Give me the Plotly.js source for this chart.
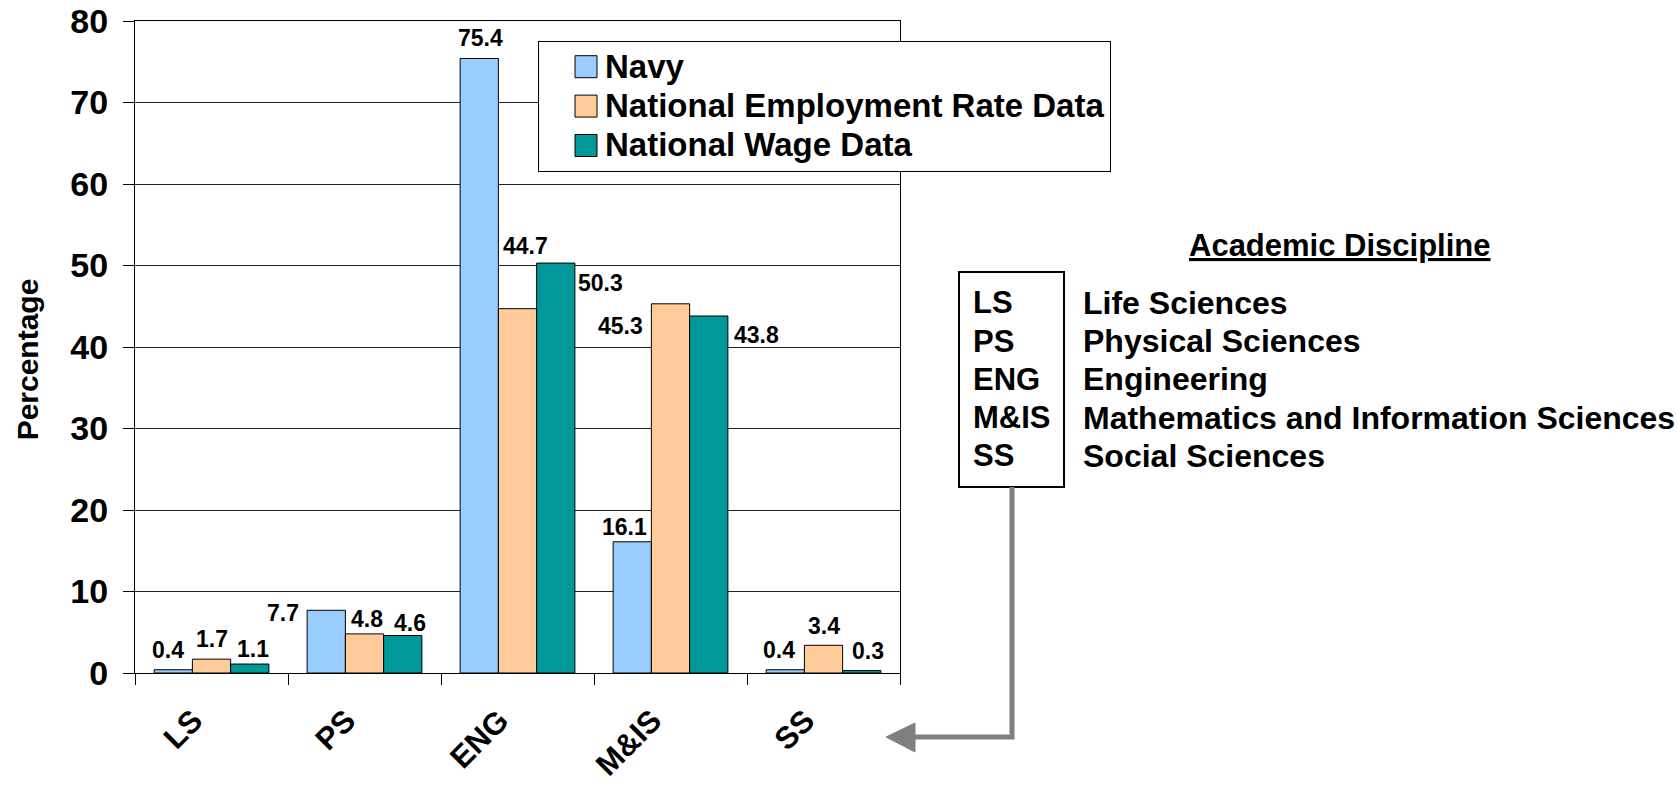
<!DOCTYPE html>
<html>
<head>
<meta charset="utf-8">
<script src="https://cdn.plot.ly/plotly-3.0.1.min.js"></script>
<style>html,body{margin:0;padding:0;background:#fff;}</style>
</head>
<body>
<div id="chart" style="width:1677px;height:785px;"></div>
<script>
// ---- Data ----
const categories = ['LS', 'PS', 'ENG', 'M&IS', 'SS'];
const navy = [0.4, 7.7, 75.4, 16.1, 0.4];
const employment = [1.7, 4.8, 44.7, 45.3, 3.4];
const wage = [1.1, 4.6, 50.3, 43.8, 0.3];
const seriesNames = ['Navy', 'National Employment Rate Data', 'National Wage Data'];
const abbreviations = ['LS', 'PS', 'ENG', 'M&IS', 'SS'];
const disciplines = ['Life Sciences', 'Physical Sciences', 'Engineering', 'Mathematics and Information Sciences', 'Social Sciences'];

// ---- Styles ----
const colors = ['#99CCFF', '#FFCC99', '#009999'];
const FONT = 'Arial, "Liberation Sans", sans-serif';
// pixel offsets of each value label relative to the top centre of its bar [series][category]
const labelShift = [
  [[-5, 20], [-43, -3], [1, 20], [-8, 15], [-6, 20]],
  [[0, 20], [2, 15], [8, 63], [-50, -22], [0, 19]],
  [[3, 15], [7, 13], [45, -20], [48, -19], [6, 20]]
];

const M = {l: 135, r: 777, t: 21, b: 112};
const W = 1677, H = 785;
const PW = W - M.l - M.r, PH = H - M.t - M.b;
const px = v => (v - M.l) / PW;
const py = v => (H - M.b - v) / PH;

const allSeries = [navy, employment, wage];
const traces = allSeries.map((vals, i) => ({
  type: 'bar',
  name: '<span style="font-size:33px">' + seriesNames[i] + '</span>',
  x: categories,
  y: vals,
  marker: {color: colors[i], line: {color: '#000', width: 1}},
  hovertemplate: seriesNames[i] + '<br>%{x}: %{y}<extra></extra>'
}));

const annotations = [];
allSeries.forEach((vals, s) => {
  vals.forEach((v, c) => {
    annotations.push({
      xref: 'x', yref: 'y', x: c + (s - 1) * 0.25, y: v,
      text: v.toFixed(1), showarrow: false,
      xanchor: 'center', yanchor: 'middle',
      xshift: labelShift[s][c][0], yshift: labelShift[s][c][1],
      font: {family: FONT, size: 23, color: '#000', weight: 'bold'}
    });
  });
});

annotations.push({
  xref: 'paper', yref: 'paper', x: px(1340), y: py(245),
  text: '<u>Academic Discipline</u>', showarrow: false,
  xanchor: 'center', yanchor: 'middle',
  font: {family: FONT, size: 31, color: '#000', weight: 'bold'}
});
abbreviations.forEach((a, i) => {
  const yy = py(303 + i * 38.2);
  annotations.push({
    xref: 'paper', yref: 'paper', x: px(971), y: yy, text: a, showarrow: false,
    xanchor: 'left', yanchor: 'middle',
    font: {family: FONT, size: 31, color: '#000', weight: 'bold'}
  });
  annotations.push({
    xref: 'paper', yref: 'paper', x: px(1081), y: yy, text: disciplines[i], showarrow: false,
    xanchor: 'left', yanchor: 'middle',
    font: {family: FONT, size: 32, color: '#000', weight: 'bold'}
  });
});

const shapes = [
  {type: 'rect', xref: 'paper', yref: 'paper', x0: px(959), x1: px(1064), y0: py(487), y1: py(272),
   line: {color: '#000', width: 2}, fillcolor: 'rgba(0,0,0,0)'},
  {type: 'path', xref: 'paper', yref: 'paper',
   path: `M${px(1012)},${py(487)} L${px(1012)},${py(737)} L${px(912)},${py(737)}`,
   line: {color: '#808080', width: 5}},
  {type: 'path', xref: 'paper', yref: 'paper',
   path: `M${px(886)},${py(737)} L${px(915)},${py(723)} L${px(915)},${py(752)} Z`,
   line: {color: '#808080', width: 1}, fillcolor: '#808080'}
];

const layout = {
  width: W, height: H,
  margin: M,
  paper_bgcolor: '#fff', plot_bgcolor: '#fff',
  barmode: 'group', bargap: 0.25, bargroupgap: 0,
  showlegend: true,
  legend: {
    x: px(538), y: py(41), xanchor: 'left', yanchor: 'top',
    bgcolor: '#fff', bordercolor: '#000', borderwidth: 1,
    font: {family: FONT, size: 28, color: '#000', weight: 'bold'},
    itemwidth: 56, tracegroupgap: 0
  },
  xaxis: {
    type: 'category',
    showline: true, linecolor: '#000', linewidth: 1, mirror: true,
    ticks: 'outside', tickson: 'boundaries', ticklen: 11, tickcolor: '#000',
    tickangle: -45, ticklabelstandoff: 16, ticklabelshift: -18,
    tickfont: {family: FONT, size: 31, color: '#000', weight: 'bold'},
    showgrid: false, fixedrange: true
  },
  yaxis: {
    range: [0, 80], dtick: 10,
    showline: true, linecolor: '#000', linewidth: 1, mirror: true,
    ticks: 'outside', ticklen: 11, tickcolor: '#000', ticklabelstandoff: 8,
    tickfont: {family: FONT, size: 34, color: '#000', weight: 'bold'},
    showgrid: true, gridcolor: '#222', gridwidth: 1, zeroline: false,
    title: {text: 'Percentage&nbsp;&nbsp;&nbsp;', standoff: 22, font: {family: FONT, size: 30, color: '#000', weight: 'bold'}},
    fixedrange: true
  },
  annotations: annotations,
  shapes: shapes
};

const SWATCH_DX = 14;
function bigSwatches() {
  document.querySelectorAll('#chart .legendpoints path').forEach(p => {
    const a = 11 + SWATCH_DX, b = -11 + SWATCH_DX;
    p.setAttribute('d', `M${a},11H${b}V-11H${a}Z`);
  });
}

Plotly.newPlot('chart', traces, layout, {displayModeBar: false}).then(gd => {
  bigSwatches();
  gd.on('plotly_afterplot', bigSwatches);
});
</script>
</body>
</html>
